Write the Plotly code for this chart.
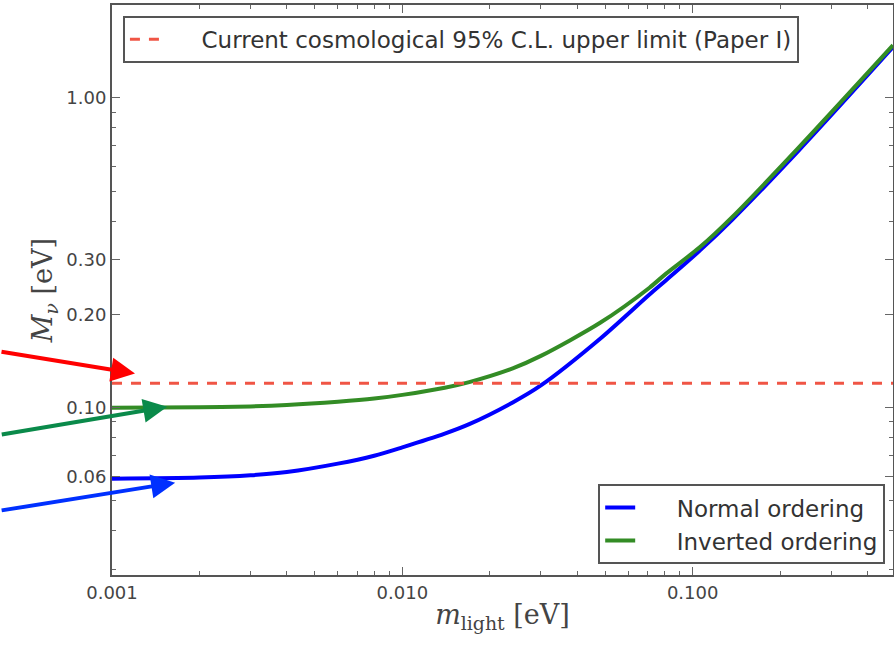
import math
import plotly.graph_objects as go

# ---- data ----
m_light = [0.001, 0.002, 0.003, 0.004, 0.006, 0.008, 0.010, 0.014, 0.017, 0.024, 0.030,
           0.048, 0.071, 0.081, 0.106, 0.137, 0.233, 0.49]
m_nu_normal = [0.059, 0.0595, 0.0605, 0.062, 0.066, 0.070, 0.0745, 0.0825, 0.0885, 0.104, 0.118,
               0.167, 0.232, 0.258, 0.322, 0.405, 0.68, 1.46]
m_nu_inverted = [0.100, 0.1004, 0.101, 0.102, 0.1045, 0.107, 0.110, 0.116, 0.121, 0.134, 0.147,
                 0.188, 0.244, 0.271, 0.330, 0.413, 0.695, 1.48]
limit_x = [0.001, 0.49]
limit_y = [0.12, 0.12]

x_tickvals = [0.001, 0.01, 0.1]
x_ticktext = ["0.001", "0.010", "0.100"]
x_minor = [0.002, 0.003, 0.004, 0.005, 0.006, 0.007, 0.008, 0.009,
           0.02, 0.03, 0.04, 0.05, 0.06, 0.07, 0.08, 0.09, 0.2, 0.3, 0.4]
y_tickvals = [0.06, 0.1, 0.2, 0.3, 1.0]
y_ticktext = ["0.06", "0.10", "0.20", "0.30", "1.00"]
y_minor = [0.03, 0.04, 0.05, 0.07, 0.08, 0.09, 0.4, 0.5, 0.6, 0.7, 0.8, 0.9, 2.0]

NB = "\u00a0" * 5

fig = go.Figure()
fig.add_trace(go.Scatter(x=m_light, y=m_nu_normal, mode="lines", name=NB + "Normal ordering",
                         line=dict(color="#0000ff", width=4, shape="spline", smoothing=0.8),
                         legend="legend2"))
fig.add_trace(go.Scatter(x=m_light, y=m_nu_inverted, mode="lines", name=NB + "Inverted ordering",
                         line=dict(color="#338c25", width=4, shape="spline", smoothing=0.8),
                         legend="legend2"))
fig.add_trace(go.Scatter(x=limit_x, y=limit_y, mode="lines",
                         name=NB + "Current cosmological 95% C.L. upper limit (Paper I)",
                         line=dict(color="#f05545", width=3, dash="10px,9px"),
                         legend="legend", showlegend=True))

axis_common = dict(type="log", showgrid=False, zeroline=False, showline=True,
                   linecolor="#555555", linewidth=2, mirror="ticks", ticks="inside",
                   ticklen=8, tickwidth=1, tickcolor="#666666",
                   tickfont=dict(family="DejaVu Sans", size=18, color="#444444"))

fig.update_xaxes(**axis_common, range=[-3, -0.31], tickmode="array",
                 tickvals=x_tickvals, ticktext=x_ticktext,
                 minor=dict(tickmode="array", tickvals=x_minor, ticks="inside", ticklen=4,
                            tickcolor="#666666"),
                 title=dict(text="<i>m</i><sub>light</sub> [eV]",
                            font=dict(family="DejaVu Serif", size=27, color="#444444"),
                            standoff=4))
fig.update_yaxes(**axis_common, range=[-1.54, 0.30], tickmode="array",
                 tickvals=y_tickvals, ticktext=y_ticktext,
                 minor=dict(tickmode="array", tickvals=y_minor, ticks="inside", ticklen=4,
                            tickcolor="#666666"),
                 title=dict(text="<i>M</i><sub><i>ν</i></sub> [eV]",
                            font=dict(family="DejaVu Serif", size=27, color="#444444"),
                            standoff=6))

# arrow tips (data units; log axes need log10 positions), tails as pixel offsets
arrows = [
    (0.0012, 0.129, -135, -22, "#ff0000"),
    (0.00155, 0.1007, -167, 28, "#0a8a4a"),
    (0.00165, 0.0573, -175, 28, "#0030ff"),
]
for tx, ty, ax, ay, col in arrows:
    fig.add_annotation(x=math.log10(tx), y=math.log10(ty), xref="x", yref="y", text="",
                       showarrow=True, axref="pixel", ayref="pixel", ax=ax, ay=ay,
                       arrowhead=2, arrowsize=1.2, arrowwidth=4, arrowcolor=col)

fig.update_layout(
    width=894, height=645,
    margin=dict(l=112, r=1, t=5, b=70, autoexpand=False),
    paper_bgcolor="white", plot_bgcolor="white",
    showlegend=True,
    font=dict(family="DejaVu Sans", color="#333333"),
    legend=dict(x=0.014, y=0.981, xanchor="left", yanchor="top",
                bgcolor="white", bordercolor="#555555", borderwidth=2,
                font=dict(family="DejaVu Sans", size=23, color="#333333")),
    legend2=dict(x=0.990, y=0.019, xanchor="right", yanchor="bottom",
                 bgcolor="white", bordercolor="#555555", borderwidth=2,
                 font=dict(family="DejaVu Sans", size=23, color="#333333")),
)

fig.write_html("out.html")
